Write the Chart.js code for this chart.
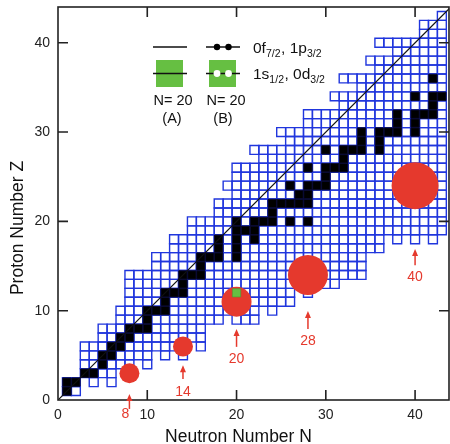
<!DOCTYPE html>
<html>
<head>
<meta charset="utf-8">
<script src="https://cdn.jsdelivr.net/npm/chart.js@4.4.0/dist/chart.umd.min.js"></script>
<style>
  html, body { margin: 0; padding: 0; background: #fff; }
</style>
</head>
<body>
<canvas id="nuclideChart" width="450" height="444"></canvas>
<script>
// Chart of nuclides: known isotopes (blue), stable ones (black), vanishing magic numbers (red)
const protonZ = [1, 2, 3, 4, 5, 6, 7, 8, 9, 10, 11, 12, 13, 14, 15, 16, 17, 18, 19, 20, 21,
  22, 23, 24, 25, 26, 27, 28, 29, 30, 31, 32, 33, 34, 35, 36, 37, 38, 39, 40, 41, 42, 43];
const firstN = [1, 1, 3, 3, 3, 3, 5, 5, 7, 7, 8, 8, 8, 8, 11, 11, 13, 13, 15, 15, 18,
  18, 20, 19, 20, 20, 23, 22, 26, 25, 28, 28, 32, 31, 34, 32, 36, 35, 38, 36, 41, 41, 43];
const lastN = [2, 2, 6, 8, 10, 14, 16, 16, 22, 22, 26, 26, 31, 34, 34, 34, 36, 36, 43, 43, 43,
  43, 43, 43, 43, 43, 43, 43, 43, 43, 43, 43, 43, 43, 43, 43, 43, 43, 43, 43, 43, 43, 43];
// isolated cells beyond the row ends, and gaps inside rows: [N, Z]
const extraCells = [[4, 2], [6, 2], [8, 3], [10, 4], [12, 5], [14, 5], [16, 6], [24, 10],
  [28, 12], [38, 18], [40, 18], [42, 18]];
const missingCells = [[19, 9]];
// stable nuclides: [N, Z]
const stableCells = [[1, 1], [1, 2], [2, 2], [3, 3], [4, 3], [5, 4], [5, 5], [6, 5], [6, 6], [7, 6],
  [7, 7], [8, 7], [8, 8], [9, 8], [10, 8], [10, 9], [10, 10], [11, 10], [12, 10], [12, 11],
  [12, 12], [13, 12], [14, 12], [14, 13], [14, 14], [15, 14], [16, 14], [16, 15], [16, 16],
  [17, 16], [18, 16], [20, 16], [18, 17], [20, 17], [18, 18], [20, 18], [22, 18], [20, 19],
  [21, 19], [22, 19], [20, 20], [22, 20], [23, 20], [24, 20], [26, 20], [28, 20], [24, 21],
  [24, 22], [25, 22], [26, 22], [27, 22], [28, 22], [27, 23], [28, 23], [26, 24], [28, 24],
  [29, 24], [30, 24], [30, 25], [28, 26], [30, 26], [31, 26], [32, 26], [32, 27], [30, 28],
  [32, 28], [33, 28], [34, 28], [36, 28], [34, 29], [36, 29], [34, 30], [36, 30], [37, 30],
  [38, 30], [40, 30], [38, 31], [40, 31], [38, 32], [40, 32], [41, 32], [42, 32], [42, 33],
  [40, 34], [42, 34], [43, 34], [42, 36]];
const magicN = [8, 14, 20, 28, 40];
const magicZ = [3, 6, 11, 14, 24];
const magicLabels = ['8', '14', '20', '28', '40'];
const greenCell = [[20, 12]];
const axisTicks = [0, 10, 20, 30, 40];

const FONT = '"Liberation Sans", Arial, Helvetica, sans-serif';
const RED = '#e5392d';
const GREEN = '#66bf42';
const circleRadius = [10, 10, 15, 20, 23.5];
// arrow tip / tail / label heights in Z units under each circle
const arrowMarks = [
  { tip: 0.67, tail: -1.0, label: -1.6, dx: -4 },
  { tip: 3.9, tail: 2.35, label: 0.9, dx: 0 },
  { tip: 7.95, tail: 5.95, label: 4.6, dx: 0 },
  { tip: 9.97, tail: 7.95, label: 6.6, dx: 0 },
  { tip: 16.9, tail: 15.1, label: 13.7, dx: 0 }
];

const knownPoints = [];
protonZ.forEach((z, i) => {
  for (let n = firstN[i]; n <= lastN[i]; n++) {
    if (!missingCells.some(c => c[0] === n && c[1] === z)) knownPoints.push({ x: n, y: z });
  }
});
extraCells.forEach(c => knownPoints.push({ x: c[0], y: c[1] }));
const stablePoints = stableCells.map(c => ({ x: c[0], y: c[1] }));
const magicPoints = magicN.map((n, i) => ({ x: n, y: magicZ[i] }));
const greenPoints = greenCell.map(c => ({ x: c[0], y: c[1] }));

const X_MAX = 43.8;
const Y_MAX = 44;
const diagonal = [{ x: 0, y: 0 }, { x: Y_MAX, y: Y_MAX }];

// square side of one N unit, as a 'rect' point radius
function cellRadius(ctx, frac) {
  const xs = ctx.chart.scales.x;
  const unit = Math.abs(xs.getPixelForValue(1) - xs.getPixelForValue(0));
  return unit * frac / Math.SQRT2;
}

function drawRich(ctx, parts, x, y) {
  parts.forEach(p => {
    ctx.font = p.sub ? '10.5px ' + FONT : '15.5px ' + FONT;
    ctx.fillText(p.t, x, p.sub ? y + 4 : y);
    x += ctx.measureText(p.t).width + (p.sub ? 0.5 : 0);
  });
}

const decorPlugin = {
  id: 'decor',
  afterDraw(chart) {
    const ctx = chart.ctx;
    const { left, right, top, bottom } = chart.chartArea;
    const xs = chart.scales.x, ys = chart.scales.y;
    ctx.save();

    // frame with inward ticks
    ctx.strokeStyle = '#222';
    ctx.lineWidth = 1.6;
    ctx.strokeRect(left, top, right - left, bottom - top);
    ctx.beginPath();
    axisTicks.forEach(v => {
      if (v === 0) return;
      const px = xs.getPixelForValue(v);
      ctx.moveTo(px, bottom); ctx.lineTo(px, bottom - 10);
      ctx.moveTo(px, top); ctx.lineTo(px, top + 10);
      const py = ys.getPixelForValue(v);
      ctx.moveTo(left, py); ctx.lineTo(left + 10, py);
      ctx.moveTo(right, py); ctx.lineTo(right - 10, py);
    });
    ctx.stroke();

    // arrows and magic-number labels
    ctx.strokeStyle = RED;
    ctx.fillStyle = RED;
    ctx.lineWidth = 1.5;
    ctx.font = '14px ' + FONT;
    ctx.textAlign = 'center';
    ctx.textBaseline = 'middle';
    magicN.forEach((n, i) => {
      const m = arrowMarks[i];
      const px = xs.getPixelForValue(n);
      const tipY = ys.getPixelForValue(m.tip);
      const tailY = ys.getPixelForValue(m.tail);
      ctx.beginPath();
      ctx.moveTo(px, tailY); ctx.lineTo(px, tipY + 4);
      ctx.stroke();
      ctx.beginPath();
      ctx.moveTo(px, tipY); ctx.lineTo(px - 3, tipY + 7); ctx.lineTo(px + 3, tipY + 7);
      ctx.closePath(); ctx.fill();
      ctx.fillText(magicLabels[i], px + m.dx, ys.getPixelForValue(m.label));
    });

    // legend
    ctx.strokeStyle = '#111';
    ctx.lineWidth = 1.6;
    ctx.fillStyle = GREEN;
    ctx.fillRect(156, 60, 27, 27);
    ctx.fillRect(209, 60, 27, 27);
    ctx.beginPath();
    ctx.moveTo(153, 47); ctx.lineTo(187, 47);
    ctx.moveTo(206, 47); ctx.lineTo(240, 47);
    ctx.moveTo(153, 73.5); ctx.lineTo(187, 73.5);
    ctx.moveTo(206, 73.5); ctx.lineTo(240, 73.5);
    ctx.stroke();
    [217, 228.5].forEach(cx => {
      ctx.fillStyle = '#000';
      ctx.beginPath(); ctx.arc(cx, 47, 3.2, 0, Math.PI * 2); ctx.fill();
      ctx.fillStyle = '#fff';
      ctx.beginPath(); ctx.arc(cx, 73.5, 3.4, 0, Math.PI * 2); ctx.fill();
    });
    ctx.fillStyle = '#111';
    ctx.textAlign = 'left';
    ctx.textBaseline = 'alphabetic';
    drawRich(ctx, [{ t: '0f' }, { t: '7/2', sub: true }, { t: ', 1p' }, { t: '3/2', sub: true }], 253, 53);
    drawRich(ctx, [{ t: '1s' }, { t: '1/2', sub: true }, { t: ', 0d' }, { t: '3/2', sub: true }], 253, 79);
    ctx.font = '14.5px ' + FONT;
    ctx.textAlign = 'center';
    ctx.textBaseline = 'middle';
    ctx.fillText('N= 20', 173, 101);
    ctx.fillText('(A)', 172, 119);
    ctx.fillText('N= 20', 226, 101);
    ctx.fillText('(B)', 223, 119);

    // axis titles
    ctx.font = '17.5px ' + FONT;
    ctx.textBaseline = 'alphabetic';
    ctx.fillText('Neutron Number N', 238.5, 442);
    ctx.translate(23, 228);
    ctx.rotate(-Math.PI / 2);
    ctx.fillText('Proton Number Z', 0, 0);
    ctx.restore();
  }
};

new Chart(document.getElementById('nuclideChart'), {
  type: 'scatter',
  data: {
    datasets: [
      {
        label: 'known', data: knownPoints, order: 6, pointStyle: 'rect',
        pointRadius: ctx => cellRadius(ctx, 1),
        pointBackgroundColor: 'rgba(0,0,0,0)', pointBorderColor: '#2036dd', pointBorderWidth: 1.4
      },
      {
        label: 'stable', data: stablePoints, order: 5, pointStyle: 'rect',
        pointRadius: ctx => cellRadius(ctx, 0.94),
        pointBackgroundColor: '#000', pointBorderColor: '#0a0a30', pointBorderWidth: 1
      },
      {
        label: 'N=Z', type: 'line', data: diagonal, order: 4, showLine: true,
        borderColor: '#111', borderWidth: 1.2, pointRadius: 0
      },
      {
        label: 'magic', data: magicPoints, order: 3, pointStyle: 'circle',
        pointRadius: circleRadius, pointBackgroundColor: RED, pointBorderWidth: 0
      },
      {
        label: 'green', data: greenPoints, order: 2, pointStyle: 'rect',
        pointRadius: ctx => cellRadius(ctx, 0.93),
        pointBackgroundColor: GREEN, pointBorderColor: '#4b9a32', pointBorderWidth: 0.6
      }
    ]
  },
  options: {
    responsive: false,
    animation: false,
    events: [],
    layout: { autoPadding: false, padding: { top: 7, right: 1, left: 0, bottom: 0 } },
    plugins: { legend: { display: false }, tooltip: { enabled: false } },
    scales: {
      x: {
        type: 'linear', min: 0, max: X_MAX,
        grid: { display: false, drawTicks: false }, border: { display: false },
        ticks: { font: { family: FONT, size: 14 }, color: '#222', padding: 7, maxRotation: 0 },
        afterBuildTicks: s => { s.ticks = axisTicks.map(v => ({ value: v })); },
        afterFit: s => { s.height = 44; s.paddingLeft = 0; s.paddingRight = 0; }
      },
      y: {
        type: 'linear', min: 0, max: Y_MAX,
        grid: { display: false, drawTicks: false }, border: { display: false },
        ticks: { font: { family: FONT, size: 14 }, color: '#222', padding: 8 },
        afterBuildTicks: s => { s.ticks = axisTicks.map(v => ({ value: v })); },
        afterFit: s => { s.width = 58; s.paddingTop = 0; s.paddingBottom = 0; }
      }
    }
  },
  plugins: [decorPlugin]
});
</script>
</body>
</html>
